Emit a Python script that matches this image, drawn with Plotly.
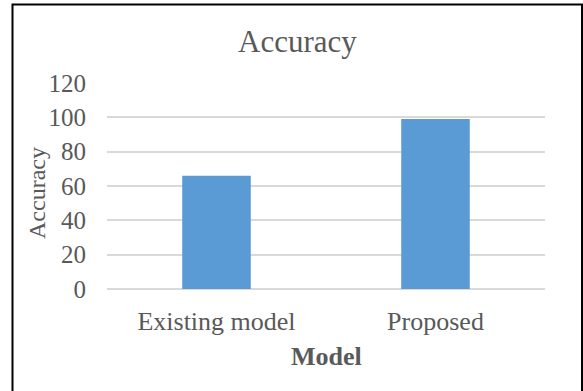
import plotly.graph_objects as go

# Data
models = ["Existing model", "Proposed"]
accuracy = [66, 99]
y_ticks = [0, 20, 40, 60, 80, 100, 120]

# Canvas and plot-area geometry (pixels)
W, H = 583, 391
L, R, T, B = 107, 545, 83, 289

def xp(px):
    return (px - L) / (R - L)

def yp(py):
    return (B - py) / (B - T)

FONT = "Liberation Serif, Times New Roman, serif"
GREY = "#595959"

fig = go.Figure(
    go.Bar(
        x=models,
        y=accuracy,
        marker=dict(color="#5B9BD5", line=dict(width=0)),
        width=0.313,
    )
)

fig.update_layout(
    width=W,
    height=H,
    margin=dict(l=L, r=W - R, t=T, b=H - B),
    paper_bgcolor="white",
    plot_bgcolor="white",
    showlegend=False,
    font=dict(family=FONT, color=GREY),
)

fig.update_xaxes(
    showgrid=False,
    showline=False,
    ticks="",
    tickfont=dict(size=26, color=GREY, family=FONT),
    ticklabelstandoff=14,
    range=[-0.5, 1.5],
)

fig.update_yaxes(
    range=[0, 120],
    tickvals=y_ticks,
    showgrid=True,
    gridcolor="#D9D9D9",
    gridwidth=1.5,
    zeroline=True,
    zerolinecolor="#D9D9D9",
    zerolinewidth=1.5,
    showline=False,
    ticks="",
    tickfont=dict(size=25, color=GREY, family=FONT),
    ticklabelstandoff=20,
)

# Chart title, axis titles
fig.add_annotation(
    text="Accuracy", x=xp(297), y=yp(41), xref="paper", yref="paper",
    showarrow=False, xanchor="center", yanchor="middle",
    font=dict(size=31, color=GREY, family=FONT),
)
fig.add_annotation(
    text="<b>Model</b>", x=xp(326), y=yp(356), xref="paper", yref="paper",
    showarrow=False, xanchor="center", yanchor="middle",
    font=dict(size=26, color=GREY, family=FONT),
)
fig.add_annotation(
    text="Accuracy", x=xp(37), y=yp(193), xref="paper", yref="paper",
    showarrow=False, xanchor="center", yanchor="middle", textangle=-90,
    font=dict(size=24, color=GREY, family=FONT),
)

# Outer chart border
fig.add_shape(
    type="rect", xref="paper", yref="paper",
    x0=xp(12.5), x1=xp(582), y0=yp(420), y1=yp(4.5),
    line=dict(color="black", width=2), fillcolor="rgba(0,0,0,0)",
    layer="above",
)

fig.write_html("out.html")
